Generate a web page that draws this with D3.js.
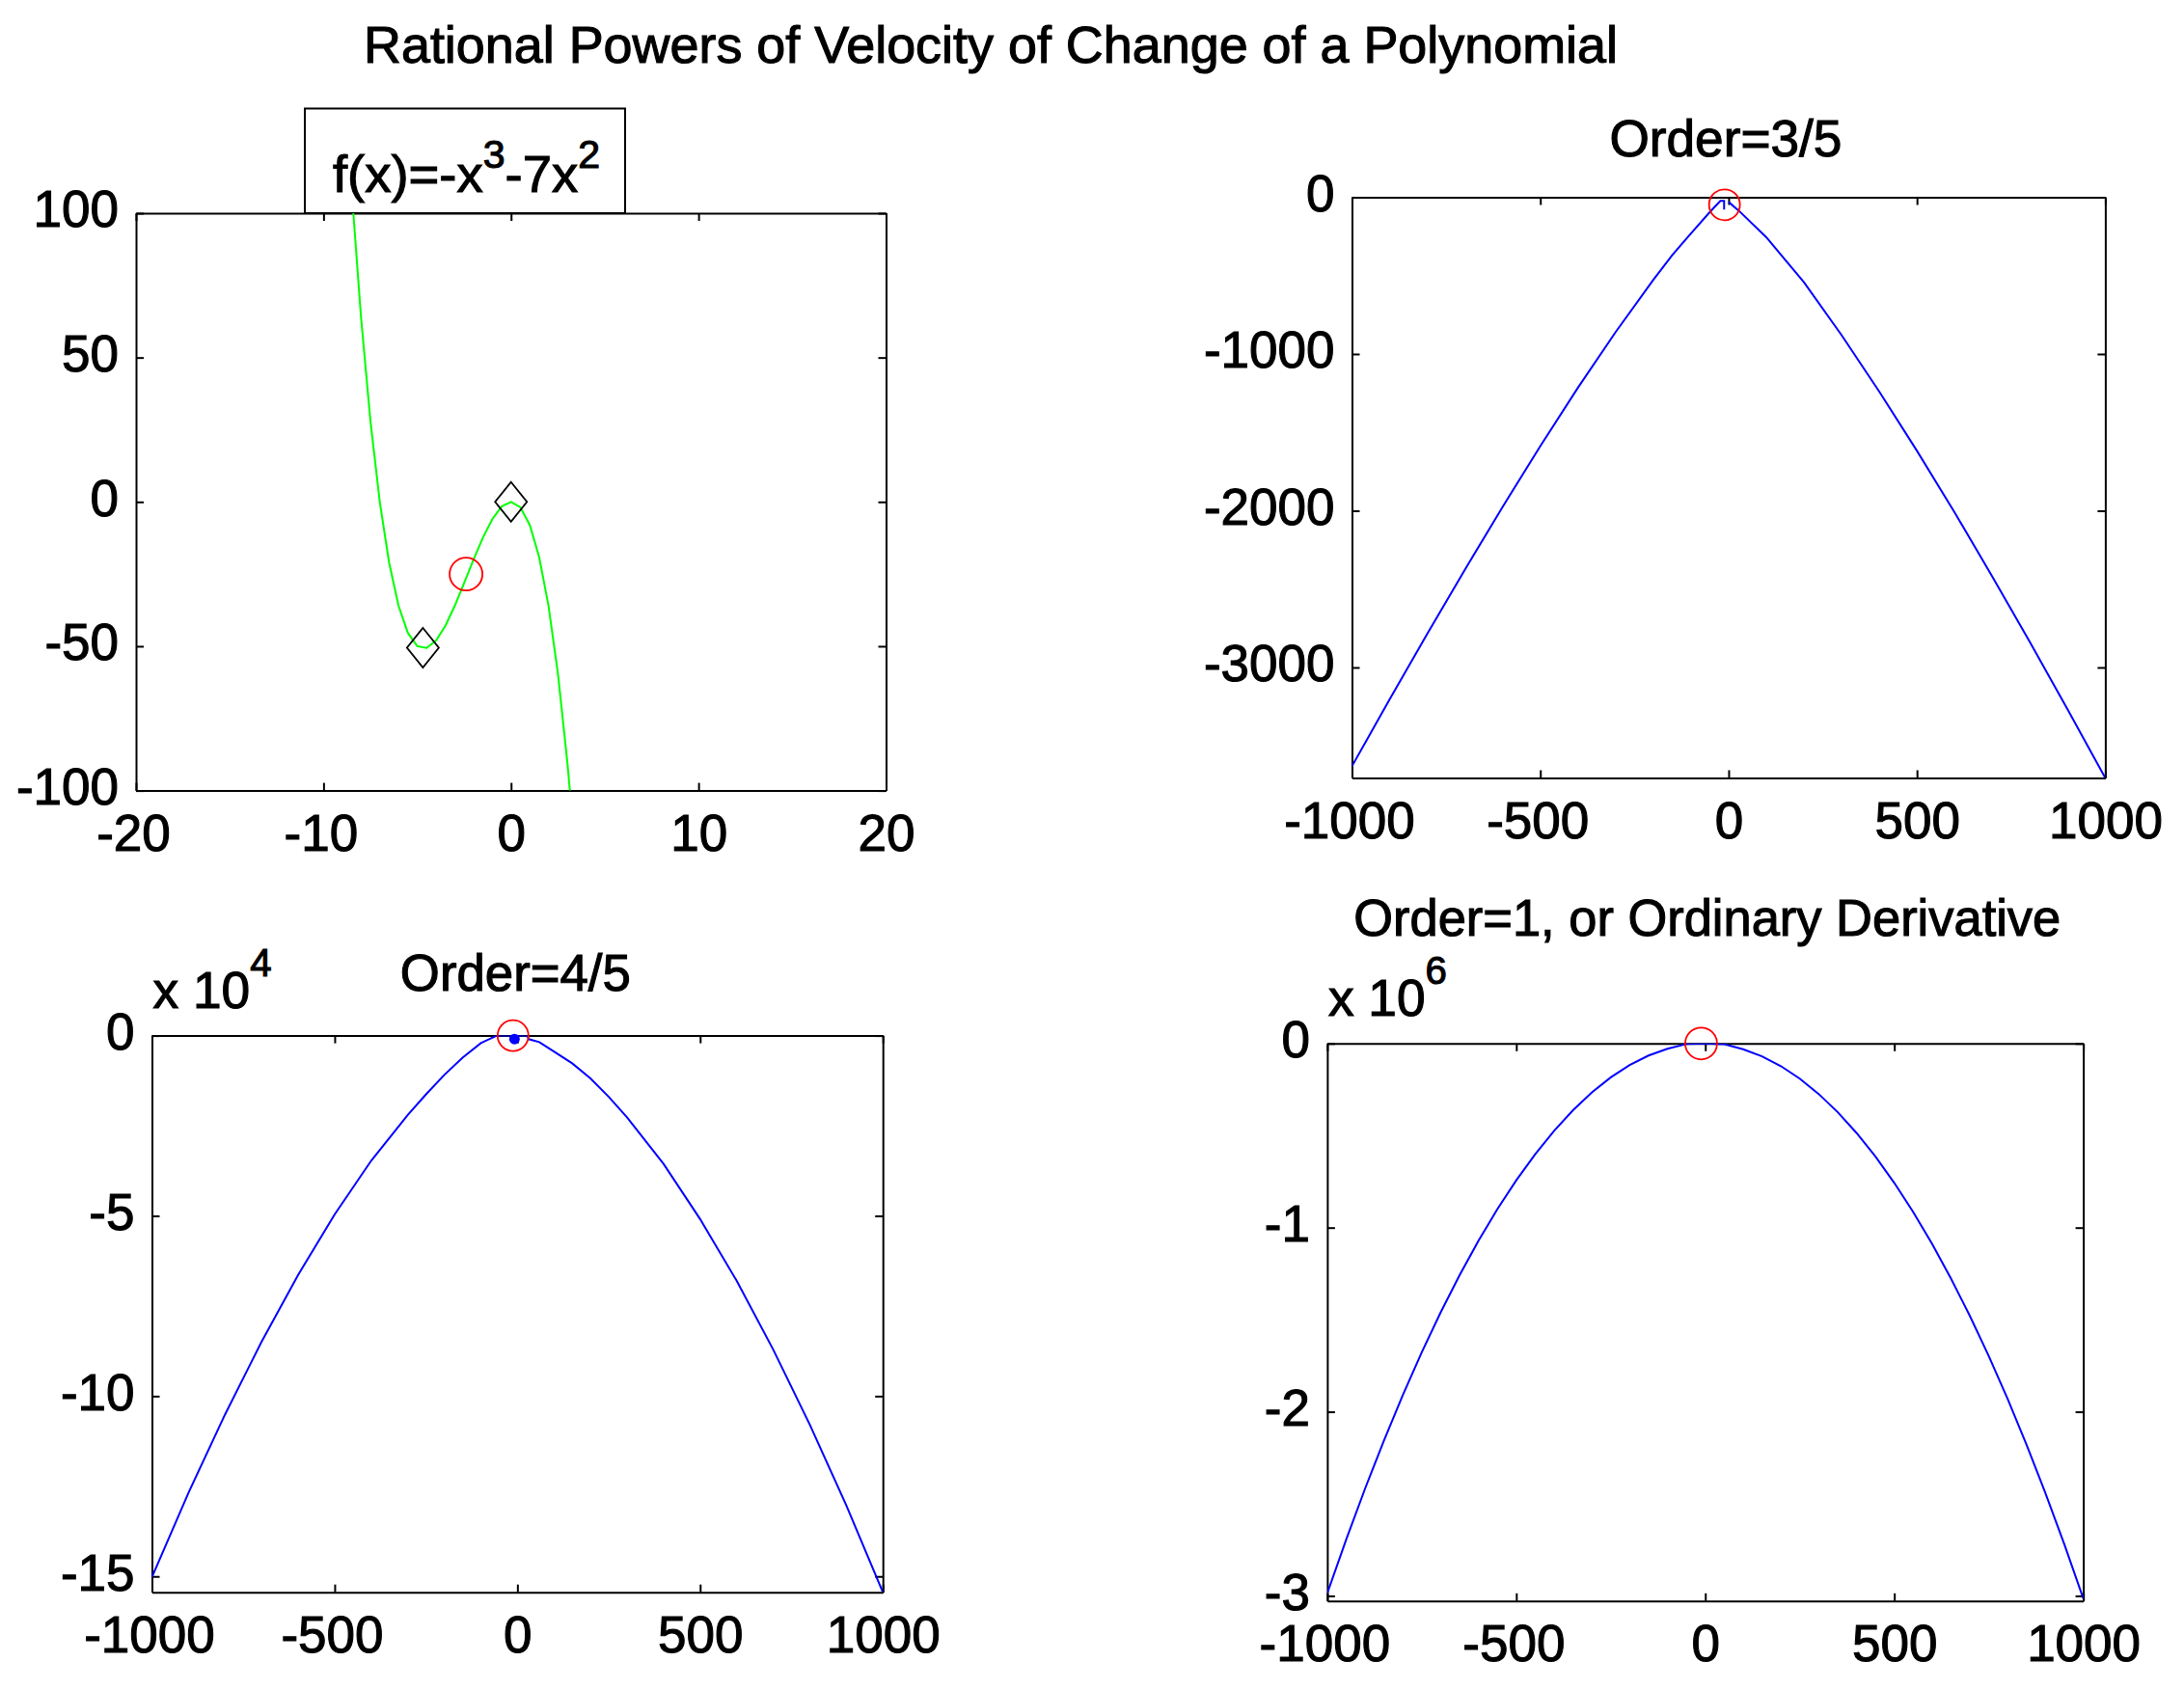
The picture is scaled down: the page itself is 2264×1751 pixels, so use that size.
<!DOCTYPE html>
<html lang="en">
<head>
  <meta charset="UTF-8">
  <title>Rational Powers of Velocity of Change of a Polynomial</title>
  <script src="https://d3js.org/d3.v7.min.js"></script>
  <style>
    body { margin: 0; background: #fff; }
    text { font-family: "Liberation Sans", Arial, sans-serif; fill: #000; stroke: #000; stroke-width: 1.1px; }
  </style>
</head>
<body>
  <div id="chart"></div>
  <script>
    // top-left panel: f(x) = -x^3 - 7x^2
    const polyX = [-8.45, -8, -7.5, -7, -6.5, -6, -5.5, -5, -4.5, -4, -3.5, -3, -2.5, -2, -1.5, -1, -0.5, 0, 0.5, 1, 1.5, 2, 2.5, 3, 3.15];
    const polyY = [103.6, 64, 28.1, 0, -21.1, -36, -45.4, -50, -50.6, -48, -42.9, -36, -28.1, -20, -12.4, -6, -1.6, 0, -1.9, -8, -19.1, -36, -59.4, -90, -100.8];
    const extremaX = [-4.7, 0];
    const extremaY = [-50.5, 0];
    const inflectX = [-2.4];
    const inflectY = [-25];

    // Order = 3/5 (null = gap in the line near the peak)
    const order35X = [-1000, -900, -800, -700, -600, -500, -400, -300, -200, -150, -107, -52, -22, -12, -12, -6, 0, 29, 100, 200, 300, 400, 500, 600, 700, 800, 900, 1000];
    const order35Y = [-3630, -3204, -2785, -2375, -1975, -1588, -1215, -860, -527, -370, -250, -100, -23, -23, -79, null, -30, -90, -255, -543, -880, -1240, -1618, -2011, -2420, -2839, -3268, -3705];
    const ring35X = [-11];
    const ring35Y = [-48];

    // Order = 4/5
    const order45X = [-1000, -900, -800, -700, -600, -500, -400, -300, -250, -200, -150, -100, -56, 27, 31, 60, 100, 150, 200, 250, 300, 400, 500, 600, 700, 800, 900, 1000];
    const order45Y = [-150200, -126800, -105100, -84900, -66400, -49600, -34700, -22000, -16300, -10900, -6100, -2100, 0, 0, -1000, -1800, -4400, -7700, -11900, -17000, -22700, -35600, -50900, -68000, -87100, -107900, -130300, -154400];
    const ring45X = [-12];
    const ring45Y = [0];
    const dot45X = [-8];
    const dot45Y = [-960];

    // Order = 1 (ordinary derivative)
    const order1X = [-1000, -950, -900, -850, -800, -750, -700, -650, -600, -550, -500, -450, -400, -350, -300, -250, -200, -150, -100, -50, 0,
      50, 100, 150, 200, 250, 300, 350, 400, 450, 500, 550, 600, 650, 700, 750, 800, 850, 900, 950, 1000];
    const order1Y = [-2986000, -2694200, -2417400, -2155600, -1908800, -1677000, -1460200, -1258400, -1071600, -899800, -743000, -601200, -474400, -362600, -265800, -184000, -117200, -65400, -28600, -3000, 0,
      -4000, -31400, -69600, -122800, -191000, -274200, -372400, -485600, -613800, -757000, -915200, -1088400, -1276600, -1479800, -1698000, -1931200, -2179400, -2442600, -2720800, -3014000];
    const ring1X = [-11];
    const ring1Y = [0];

    // ticks
    const polyXTicks = [-20, -10, 0, 10, 20];
    const polyYTicks = [-100, -50, 0, 50, 100];
    const derivXTicks = [-1000, -500, 0, 500, 1000];
    const order35YTicks = [-3000, -2000, -1000, 0];
    const order45YTicks = [-150000, -100000, -50000, 0];
    const order1YTicks = [-3000000, -2000000, -1000000, 0];

    const width = 2264;
    const height = 1751;
    const font = '"Liberation Sans", Arial, sans-serif';
    const textSize = 53;

    const svg = d3.select("#chart")
      .append("svg")
      .attr("width", width)
      .attr("height", height);

    svg.append("rect")
      .attr("width", width)
      .attr("height", height)
      .attr("fill", "#fff");

    function zip(xs, ys) {
      return xs.map((x, i) => ({ x: x, y: ys[i] }));
    }

    function styleAxis(sel) {
      sel.attr("font-size", textSize).attr("font-family", font);
      sel.selectAll("path, line").attr("stroke", "#000").attr("stroke-width", 2);
      sel.selectAll("text").attr("fill", "#000");
    }

    function drawPanel(p) {
      const x = d3.scaleLinear().domain(p.xDomain).range([p.left, p.right]);
      const y = d3.scaleLinear().domain(p.yDomain).range([p.bottom, p.top]);
      const g = svg.append("g");

      g.append("clipPath")
        .attr("id", p.id + "-clip")
        .append("rect")
        .attr("x", p.left)
        .attr("y", p.top)
        .attr("width", p.right - p.left)
        .attr("height", p.bottom - p.top);

      // MATLAB style box: ticks point inwards on all four sides
      g.append("g")
        .attr("transform", `translate(0,${p.bottom})`)
        .call(d3.axisBottom(x).tickValues(p.xTicks).tickSizeInner(-8).tickSizeOuter(0)
          .tickPadding(25).tickFormat(d => String(d)))
        .call(styleAxis)
        .selectAll("text").attr("dx", d => d < 0 ? -3 : 0);

      g.append("g")
        .attr("transform", `translate(0,${p.top})`)
        .call(d3.axisTop(x).tickValues(p.xTicks).tickSizeInner(-8).tickSizeOuter(0).tickFormat(""))
        .call(styleAxis);

      g.append("g")
        .attr("transform", `translate(${p.left},0)`)
        .call(d3.axisLeft(y).tickValues(p.yTicks).tickSizeInner(-8).tickSizeOuter(0)
          .tickPadding(18).tickFormat(d => String(d / p.yScaleBy)))
        .call(styleAxis)
        .selectAll("text").attr("dy", "0.26em");

      g.append("g")
        .attr("transform", `translate(${p.right},0)`)
        .call(d3.axisRight(y).tickValues(p.yTicks).tickSizeInner(-8).tickSizeOuter(0).tickFormat(""))
        .call(styleAxis);

      const line = d3.line()
        .defined(d => d.y !== null)
        .x(d => x(d.x))
        .y(d => y(d.y));

      g.append("path")
        .datum(zip(p.lineX, p.lineY))
        .attr("clip-path", `url(#${p.id}-clip)`)
        .attr("fill", "none")
        .attr("stroke", p.color)
        .attr("stroke-width", 2)
        .attr("d", line);

      if (p.diamondX) {
        g.selectAll(".diamond")
          .data(zip(p.diamondX, p.diamondY))
          .enter()
          .append("path")
          .attr("class", "diamond")
          .attr("transform", d => `translate(${x(d.x)},${y(d.y)})`)
          .attr("d", "M0,-20.5L16.5,0L0,20.5L-16.5,0Z")
          .attr("fill", "none")
          .attr("stroke", "#000")
          .attr("stroke-width", 1.8);
      }

      if (p.dotX) {
        g.selectAll(".dot")
          .data(zip(p.dotX, p.dotY))
          .enter()
          .append("circle")
          .attr("class", "dot")
          .attr("cx", d => x(d.x))
          .attr("cy", d => y(d.y))
          .attr("r", 5.5)
          .attr("fill", "#0000ff");
      }

      g.selectAll(".ring")
        .data(zip(p.ringX, p.ringY))
        .enter()
        .append("circle")
        .attr("class", "ring")
        .attr("cx", d => x(d.x))
        .attr("cy", d => y(d.y))
        .attr("r", p.ringR)
        .attr("fill", "none")
        .attr("stroke", "#ff0000")
        .attr("stroke-width", 1.8);

      if (p.title) {
        svg.append("text")
          .attr("x", (p.left + p.right) / 2 + p.title.dx)
          .attr("y", p.title.y)
          .attr("text-anchor", "middle")
          .attr("font-size", textSize)
          .attr("textLength", p.title.len)
          .attr("lengthAdjust", "spacingAndGlyphs")
          .text(p.title.text);
      }

      // "x 10^n" multiplier above the y axis
      if (p.exponent) {
        const t = svg.append("text")
          .attr("x", p.left + 1)
          .attr("y", p.top - 29)
          .attr("font-size", textSize)
          .attr("textLength", 123)
          .attr("lengthAdjust", "spacingAndGlyphs");
        t.append("tspan").text("x 10");
        t.append("tspan").attr("dy", -33).attr("font-size", 40).text(p.exponent);
      }
      return { x, y };
    }

    // main title
    svg.append("text")
      .attr("x", 377)
      .attr("y", 65)
      .attr("font-size", textSize)
      .attr("textLength", 1300)
      .attr("lengthAdjust", "spacingAndGlyphs")
      .text("Rational Powers of Velocity of Change of a Polynomial");

    // top-left: boxed formula sitting on the axes
    svg.append("rect")
      .attr("x", 316)
      .attr("y", 112.5)
      .attr("width", 332)
      .attr("height", 108.5)
      .attr("fill", "#fff")
      .attr("stroke", "#000")
      .attr("stroke-width", 2);

    const ftext = svg.append("text")
      .attr("x", 345)
      .attr("y", 199)
      .attr("font-size", textSize)
      .attr("textLength", 277)
      .attr("lengthAdjust", "spacingAndGlyphs");
    ftext.append("tspan").text("f(x)=-x");
    ftext.append("tspan").attr("dy", -25).attr("font-size", 40).text("3");
    ftext.append("tspan").attr("dy", 25).text("-7x");
    ftext.append("tspan").attr("dy", -25).attr("font-size", 40).text("2");

    drawPanel({
      id: "poly", left: 141, right: 918.5, top: 221, bottom: 819.6,
      xDomain: [-20, 20], yDomain: [-100, 100], xTicks: polyXTicks, yTicks: polyYTicks, yScaleBy: 1,
      lineX: polyX, lineY: polyY, color: "#00ff00",
      diamondX: extremaX, diamondY: extremaY,
      ringX: inflectX, ringY: inflectY, ringR: 17
    });

    drawPanel({
      id: "o35", left: 1401.5, right: 2182.4, top: 204.5, bottom: 806.5,
      xDomain: [-1000, 1000], yDomain: [-3705, 0], xTicks: derivXTicks, yTicks: order35YTicks, yScaleBy: 1,
      lineX: order35X, lineY: order35Y, color: "#0000ff",
      ringX: ring35X, ringY: ring35Y, ringR: 16,
      title: { text: "Order=3/5", y: 162, len: 241, dx: -3 }
    });

    drawPanel({
      id: "o45", left: 157.5, right: 915.2, top: 1073.6, bottom: 1650.7,
      xDomain: [-1000, 1000], yDomain: [-154400, 0], xTicks: derivXTicks, yTicks: order45YTicks, yScaleBy: 1e4,
      lineX: order45X, lineY: order45Y, color: "#0000ff",
      dotX: dot45X, dotY: dot45Y,
      ringX: ring45X, ringY: ring45Y, ringR: 16,
      title: { text: "Order=4/5", y: 1026.6, len: 239, dx: -2 },
      exponent: "4"
    });

    drawPanel({
      id: "o1", left: 1375.9, right: 2159.6, top: 1081.8, bottom: 1659.8,
      xDomain: [-1000, 1000], yDomain: [-3028000, 0], xTicks: derivXTicks, yTicks: order1YTicks, yScaleBy: 1e6,
      lineX: order1X, lineY: order1Y, color: "#0000ff",
      ringX: ring1X, ringY: ring1Y, ringR: 16.5,
      title: { text: "Order=1, or Ordinary Derivative", y: 969.5, len: 733, dx: 2 },
      exponent: "6"
    });
  </script>
</body>
</html>
